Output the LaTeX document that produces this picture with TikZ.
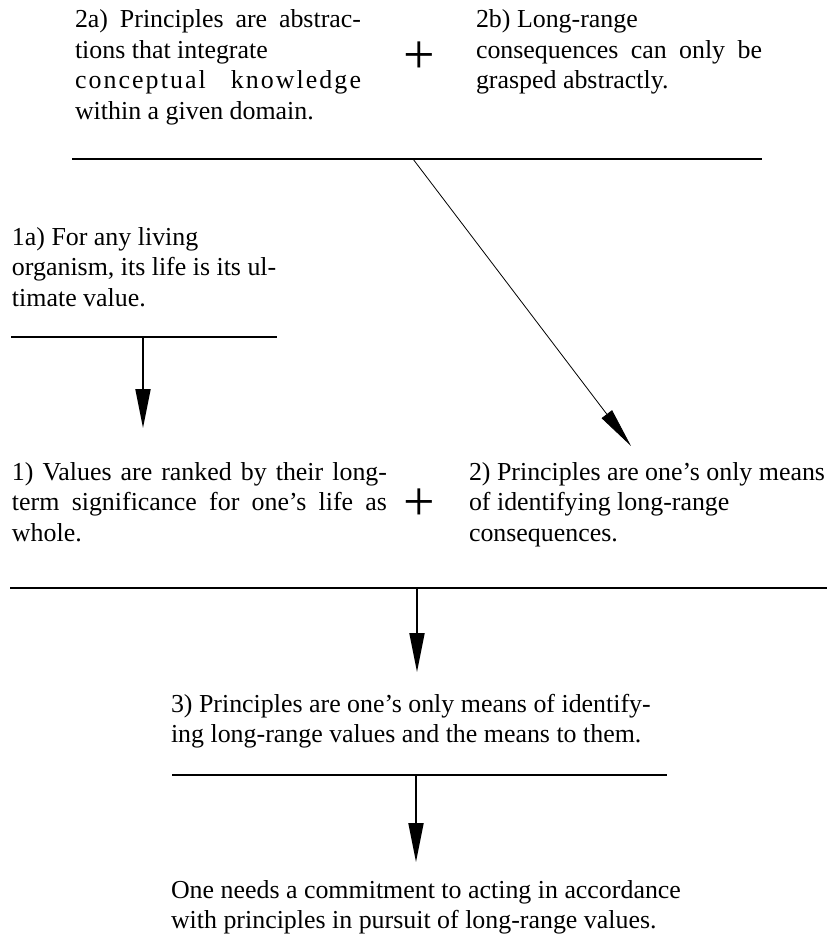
\documentclass[tikz,border=0pt]{standalone}
\usepackage{fontspec}
\setmainfont{Liberation Serif}
\usetikzlibrary{arrows.meta}
\setlength{\parindent}{0pt}
% natural interword spacing inside ragged nodes
\newcommand{\natsp}{\spaceskip=0pt\xspaceskip=0pt\relax}
\begin{document}
\begin{tikzpicture}[x=1pt,y=-1pt,
  para/.style={anchor=base west, inner sep=0pt, outer sep=0pt, align=left,
    text width=#1, font=\fontsize{25.9}{30.5}\selectfont},
  rule/.style={line width=2.4pt},
  flow/.style={line width=2pt, -{Triangle[length=39pt,width=15pt]}},
  slant/.style={line width=0.8pt, -{Triangle[length=40pt,width=13pt]}},
  plusmark/.style={inner sep=0pt, font=\fontsize{56}{56}\selectfont}]
\useasboundingbox (0,0) rectangle (832,942);

% premises of the upper argument
\node[para=290pt] (p2a) at (75,28)
  {\natsp\makebox[286pt][s]{2a) Principles are abstrac-}\\
   tions that integrate\\
   \makebox[286pt][s]{\addfontfeature{LetterSpace=8}conceptual knowledge}\\
   within a given domain.};
\node[plusmark] (plusA) at (419,58) {+};
\node[para=290pt] (p2b) at (476,28)
  {\natsp 2b) Long-range\\
   \makebox[286pt][s]{consequences can only be}\\
   grasped abstractly.};

\coordinate (r1w) at (72,159);
\coordinate (r1e) at (762,159);
\coordinate (r1s) at (413,159);
\draw[rule] (r1w) -- (r1e);

% premise 1a
\node[para=300pt] (p1a) at (12,245)
  {\natsp 1a) For any living\\
   organism, its life is its ul-\\
   timate value.};

\coordinate (r2w) at (11,337);
\coordinate (r2e) at (277,337);
\coordinate (r2s) at (143,337);
\draw[rule] (r2w) -- (r2e);

% intermediate conclusions
\node[para=380pt] (p1) at (12,480)
  {\natsp\makebox[375pt][s]{1) Values are ranked by their long-}\\
   \makebox[375pt][s]{term significance for one's life as}\\
   whole.};
\node[plusmark] (plusB) at (419,505) {+};
\node[para=362pt] (p2) at (469,480)
  {\natsp 2) Principles are one's only means\\
   of identifying long-range\\
   consequences.};

\coordinate (t2a) at (143,428);
\coordinate (t2b) at (631,446);
\draw[flow] (r2s) -- (t2a);
\draw[slant] (r1s) -- (t2b);

\coordinate (r3w) at (10,588);
\coordinate (r3e) at (827,588);
\coordinate (r3s) at (417,588);
\draw[rule] (r3w) -- (r3e);

% conclusion 3
\node[para=540pt] (p3) at (171,712)
  {\natsp 3) Principles are one's only means of identify-\\
   ing long-range values and the means to them.};
\coordinate (t3) at (417,672);
\draw[flow] (r3s) -- (t3);

\coordinate (r4w) at (172,775);
\coordinate (r4e) at (667,775);
\coordinate (r4s) at (416,775);
\draw[rule] (r4w) -- (r4e);

% final conclusion
\node[para=560pt] (pf) at (171,898)
  {\natsp One needs a commitment to acting in accordance\\
   with principles in pursuit of long-range values.};
\coordinate (t4) at (416,862);
\draw[flow] (r4s) -- (t4);
\end{tikzpicture}
\end{document}
